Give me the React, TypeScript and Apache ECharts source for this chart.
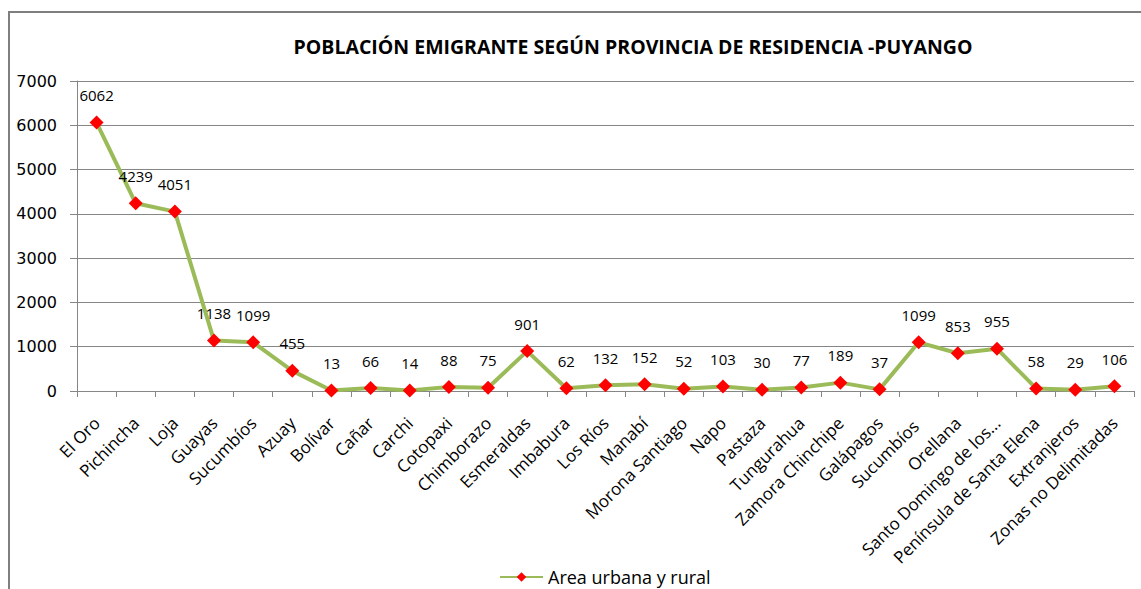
import React, { useEffect, useRef } from "react";
import * as echarts from "echarts";

const categories = [
  "El Oro", "Pichincha", "Loja", "Guayas", "Sucumbíos", "Azuay", "Bolívar", "Cañar",
  "Carchi", "Cotopaxi", "Chimborazo", "Esmeraldas", "Imbabura", "Los Ríos", "Manabí",
  "Morona Santiago", "Napo", "Pastaza", "Tungurahua", "Zamora Chinchipe", "Galápagos",
  "Sucumbíos ", "Orellana", "Santo Domingo de los...", "Península de Santa Elena",
  "Extranjeros", "Zonas no Delimitadas",
];
const values = [
  6062, 4239, 4051, 1138, 1099, 455, 13, 66, 14, 88, 75, 901, 62, 132, 152, 52, 103, 30,
  77, 189, 37, 1099, 853, 955, 58, 29, 106,
];
const seriesName = "Area urbana y rural";
const titleText = "POBLACIÓN EMIGRANTE SEGÚN PROVINCIA DE RESIDENCIA -PUYANGO";
const yMin = 0;
const yMax = 7000;
const yInterval = 1000;

export default function App() {
  const ref = useRef<HTMLDivElement>(null);
  useEffect(() => {
    document.body.style.margin = "0";
    document.body.style.overflow = "hidden";
    if (!ref.current) return;
    const chart = echarts.init(ref.current, null, { renderer: "svg" });
    const font = "'Open Sans', sans-serif";
    chart.setOption({
      animation: false,
      backgroundColor: "#ffffff",
      title: {
        text: titleText,
        left: 628,
        top: 31,
        textAlign: "center",
        textStyle: {
          fontFamily: font,
          fontSize: 19.5,
          fontWeight: "bold",
          color: "#000",
        },
      },
      graphic: [
        {
          type: "rect",
          shape: { x: 9, y: 12, width: 1300, height: 800 },
          style: { fill: "none", stroke: "#7f7f7f", lineWidth: 2 },
          silent: true,
          z: -10,
        },
      ],
      legend: {
        data: [seriesName],
        left: 494,
        top: 562,
        itemWidth: 43,
        itemHeight: 12,
        itemGap: 4,
        textStyle: { fontFamily: font, fontSize: 18, color: "#000", lineHeight: 20 },
      },
      grid: { left: 77, right: 7, top: 81, bottom: 198, containLabel: false },
      xAxis: {
        type: "category",
        data: categories,
        boundaryGap: true,
        axisLine: { lineStyle: { color: "#868686", width: 1 } },
        axisTick: { show: true, length: 6, lineStyle: { color: "#868686" } },
        axisLabel: {
          rotate: 45,
          interval: 0,
          margin: 29,
          verticalAlign: "middle",
          fontFamily: font,
          fontSize: 17,
          color: "#000",
        },
      },
      yAxis: {
        type: "value",
        min: yMin,
        max: yMax,
        interval: yInterval,
        axisLine: { show: true, lineStyle: { color: "#868686", width: 1 } },
        axisTick: { show: true, length: 7, lineStyle: { color: "#868686" } },
        axisLabel: {
          margin: 20,
          fontFamily: "'DejaVu Sans', sans-serif",
          fontSize: 16,
          color: "#000",
          formatter: (v: number) => String(v),
        },
        splitLine: { lineStyle: { color: "#868686", width: 1 } },
      },
      series: [
        {
          name: seriesName,
          type: "line",
          data: values,
          symbol: "diamond",
          symbolSize: 14,
          lineStyle: { color: "#9BBB59", width: 4 },
          itemStyle: { color: "#FF0000" },
          label: {
            show: true,
            position: "top",
            distance: 13,
            fontFamily: font,
            fontSize: 15,
            color: "#000",
          },
        },
      ],
    });
    return () => chart.dispose();
  }, []);
  return <div ref={ref} style={{ width: 1141, height: 589 }} />;
}
